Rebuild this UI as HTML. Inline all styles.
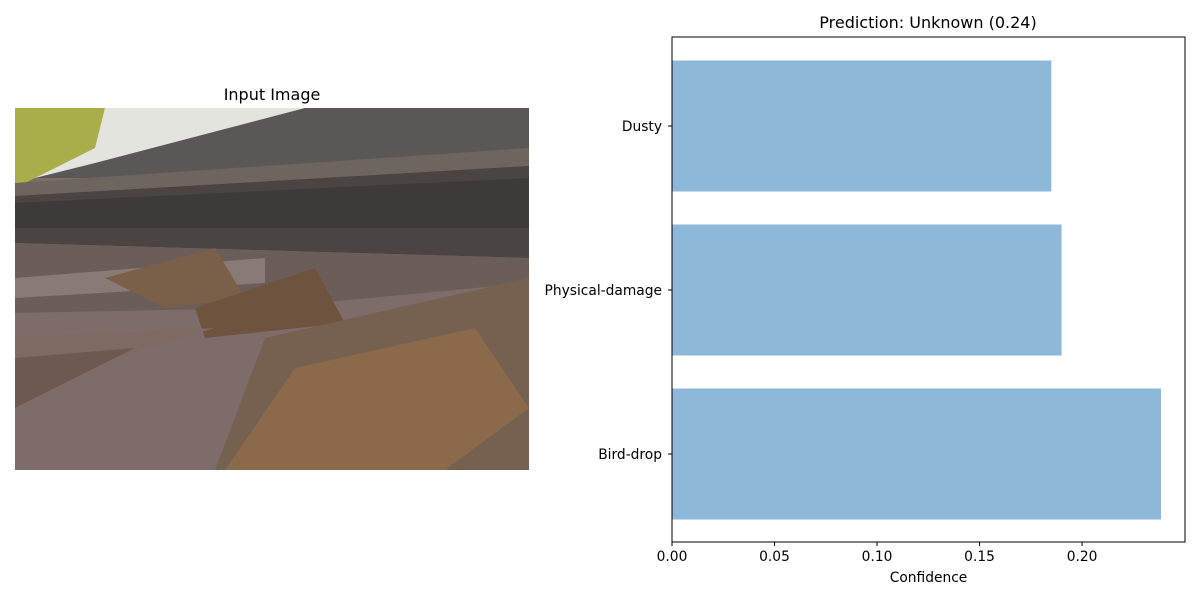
<!DOCTYPE html>
<html><head><meta charset="utf-8"><style>
body{margin:0;background:#fff;font-family:"Liberation Sans","DejaVu Sans",sans-serif}
svg text{font-family:"DejaVu Sans","Liberation Sans",sans-serif}
</style></head><body>
<svg width="1200" height="600" viewBox="0 0 1200 600">
<text x="272" y="100" font-size="16" text-anchor="middle">Input Image</text>
<g transform="translate(15,108)">
<defs><clipPath id="c"><rect width="514" height="362"/></clipPath></defs>
<g clip-path="url(#c)">
<rect width="514" height="362" fill="#7e6c6b"/>
<rect width="514" height="70" fill="#5a5857"/>
<polygon points="0,0 290,0 80,55 0,75" fill="#e4e4de"/>
<polygon points="0,0 90,0 80,40 0,80" fill="#a9ad4a"/>
<polygon points="0,75 514,40 514,58 0,88" fill="#6e655f"/>
<polygon points="0,88 514,58 514,150 0,135" fill="#4a4442"/>
<polygon points="0,95 514,70 514,120 0,120" fill="#3e3a39"/>
<polygon points="0,135 514,150 514,175 250,200 0,205" fill="#6b5e58"/>
<polygon points="0,170 250,150 250,175 0,190" fill="#8a7a76"/>
<polygon points="90,170 200,140 230,190 150,200" fill="#7a6048"/>
<polygon points="180,200 300,160 330,215 190,230" fill="#6e543e"/>
<polygon points="0,230 200,220 0,280" fill="#7d6a62"/>
<polygon points="250,230 514,170 514,362 200,362" fill="#766050"/>
<polygon points="280,260 460,220 514,300 430,362 210,362" fill="#8a6a4a"/>
<polygon points="0,250 120,240 0,300" fill="#6c5a50"/>
</g></g>
<text x="928" y="28" font-size="16" text-anchor="middle">Prediction: Unknown (0.24)</text>
<g id="chart"></g>
</svg>
<script>
const categories=["Bird-drop","Physical-damage","Dusty"];
const values=[0.2385,0.190,0.185];
const xTicks=[0,0.05,0.10,0.15,0.20];
const xTickLabels=["0.00","0.05","0.10","0.15","0.20"];
const L=672,R=1185,T=37,B=542,xmax=0.2502;
const x=v=>L+v/xmax*(R-L);
const y=i=>454-i*164;
const ns="http://www.w3.org/2000/svg",g=document.getElementById('chart');
function mk(t,a){const e=document.createElementNS(ns,t);for(const k in a)e.setAttribute(k,a[k]);g.appendChild(e);return e;}
values.forEach((v,i)=>{
 const r=mk('rect',{x:x(0),y:y(i)-65.5,width:x(v)-x(0),height:131,fill:'#8db8da'});
 
 
 mk('line',{x1:L-4,x2:L,y1:y(i),y2:y(i),stroke:'#000'});
 const t=mk('text',{x:L-10,y:y(i)+5,'font-size':13.8,'text-anchor':'end'});t.textContent=categories[i];
 
 
});
xTicks.forEach((v,i)=>{
 mk('line',{x1:x(v),x2:x(v),y1:B,y2:B+4,stroke:'#000'});
 const t=mk('text',{x:x(v),y:B+19,'font-size':13.8,'text-anchor':'middle'});t.textContent=xTickLabels[i];
 
 
});
const f=mk('rect',{x:L,y:T,width:R-L,height:B-T,fill:'none',stroke:'#000','stroke-width':1});


const xl=mk('text',{x:(L+R)/2,y:582,'font-size':13.8,'text-anchor':'middle'});xl.textContent='Confidence';


</script>
</body></html>
